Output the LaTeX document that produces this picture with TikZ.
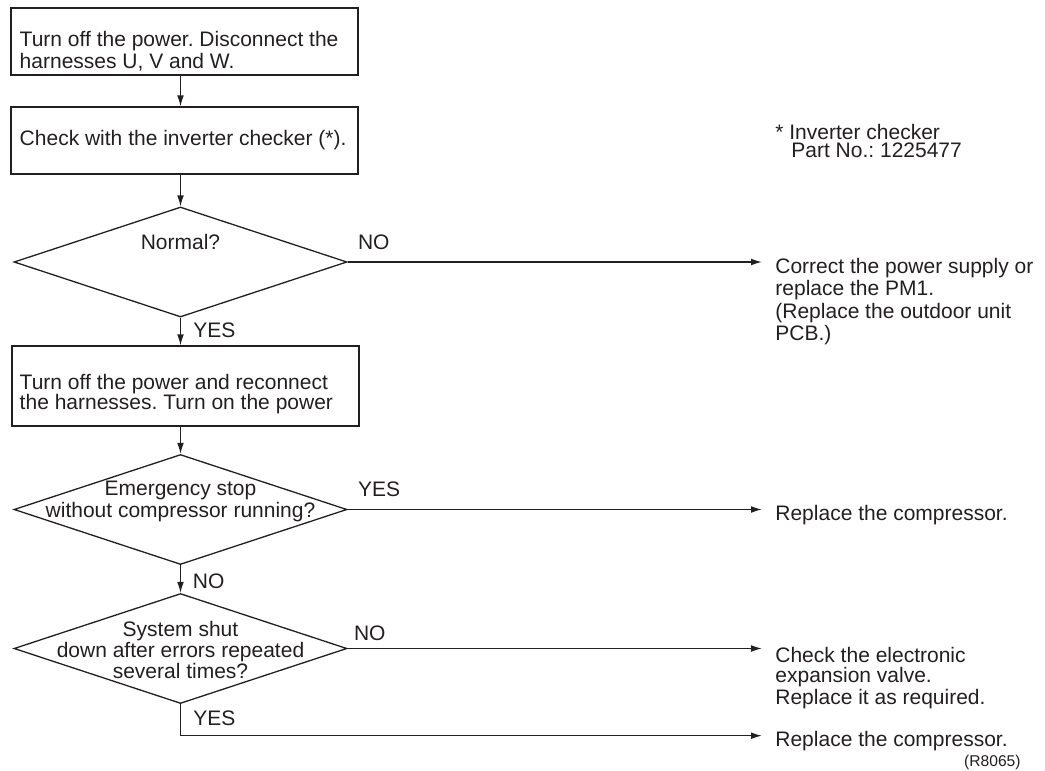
\documentclass[tikz,border=0pt]{standalone}
\usepackage{fontspec}
\setmainfont{Liberation Sans}
\usepackage{tikz}
\usetikzlibrary{shapes.geometric,arrows.meta}
\definecolor{ink}{HTML}{231F20}
\frenchspacing

\begin{document}
\begin{tikzpicture}[x=0.5pt,y=-0.5pt,
  box/.style={rectangle,draw=ink,line width=0.65pt,
    minimum width=173.5pt,inner sep=0pt},
  dec/.style={diamond,draw=ink,line width=0.65pt,
    minimum width=166.5pt,minimum height=55pt,inner sep=0pt},
  txt/.style={inner sep=0pt,text=ink,font=\fontsize{10.5}{10}\selectfont},
  rtxt/.style={txt,anchor=north west,align=left,inner xsep=6.5pt},
  lbl/.style={txt,anchor=west},
  arr/.style={-{Latex[length=5.5pt,width=3.4pt]},draw=ink,line width=0.65pt}]

  \useasboundingbox (0,0) rectangle (1045,771);

  \node[box,minimum height=33.5pt] (b1) at (184.5,41.5) {};
  \node[box,minimum height=33.5pt] (b2) at (184.5,140.5) {};
  \node[dec] (d1) at (180.5,262) {};
  \node[box,minimum height=40pt] (b3) at (185.5,386) {};
  \node[dec] (d2) at (180.5,509.5) {};
  \node[dec] (d3) at (180.5,648.5) {};

  \node[txt,anchor=south west,align=left,font=\fontsize{10.5}{9}\selectfont] (t1)
    at ([xshift=4.5pt,yshift=2pt]b1.south west) {Turn off the power. Disconnect the\\harnesses U, V and W.};
  \node[txt,anchor=west] (t2) at ([xshift=4.5pt]b2.west) {Check with the inverter checker (*).};
  \node[txt,anchor=west,align=left] (t3) at ([xshift=4pt,yshift=-4pt]b3.west)
    {Turn off the power and reconnect\\the harnesses. Turn on the power};

  \node[txt] (q1) at ([yshift=10pt]d1.center) {Normal?};
  \node[txt,align=center,font=\fontsize{10.5}{11}\selectfont] (q2) at ([yshift=4.25pt]d2.center)
    {Emergency stop\\without compressor running?};
  \node[txt,align=center,font=\fontsize{10.5}{10.5}\selectfont] (q3) at ([yshift=-0.5pt]d3.center)
    {System shut\\down after errors repeated\\several times?};

  \node[lbl] (n1) at ([xshift=5pt,yshift=9.75pt]d1.east) {NO};
  \node[lbl] (y1) at ([xshift=6.25pt,yshift=-6.5pt]d1.south) {YES};
  \node[lbl] (y2) at ([xshift=5pt,yshift=10pt]d2.east) {YES};
  \node[lbl] (n2) at ([xshift=6pt,yshift=-8pt]d2.south) {NO};
  \node[lbl] (n3) at ([xshift=3pt,yshift=7.5pt]d3.east) {NO};
  \node[lbl] (y3) at ([xshift=6.25pt,yshift=-7pt]d3.south) {YES};

  \node[rtxt,font=\fontsize{10.5}{9}\selectfont] (r1) at (762,258)
    {Correct the power supply or\\replace the PM1.\\[1pt](Replace the outdoor unit\\PCB.)};
  \node[rtxt] (r2) at (762,505) {Replace the compressor.};
  \node[rtxt,font=\fontsize{10.5}{10}\selectfont] (r3) at (762,647)
    {Check the electronic\\expansion valve.\\[1pt]Replace it as required.};
  \node[rtxt] (r4) at (762,730.5) {Replace the compressor.};

  \node[txt,anchor=north west,align=left,font=\fontsize{10.5}{9}\selectfont] (note) at (775,124)
    {* Inverter checker\\\hspace*{8pt}Part No.: 1225477};
  \node[txt,anchor=east,font=\fontsize{7.8}{8}\selectfont] (ref) at (1021,762) {(R8065)};

  \draw[arr] (b1.south -| d1.north) -- (b2.north -| d1.north);
  \draw[arr] (b2.south -| d1.north) -- (d1.north);
  \draw[arr] (d1.south) -- (d1.south |- b3.north);
  \draw[arr] (b3.south -| d2.north) -- (d2.north);
  \draw[arr] (d2.south) -- (d3.north);
  \draw[arr] (d1.east) -- (d1.east -| r1.west);
  \draw[arr] (d2.east) -- (d2.east -| r2.west);
  \draw[arr] (d3.east) -- (d3.east -| r3.west);
  \draw[arr] (d3.south) |- ([yshift=2.5pt]r4.west);
\end{tikzpicture}
\end{document}
